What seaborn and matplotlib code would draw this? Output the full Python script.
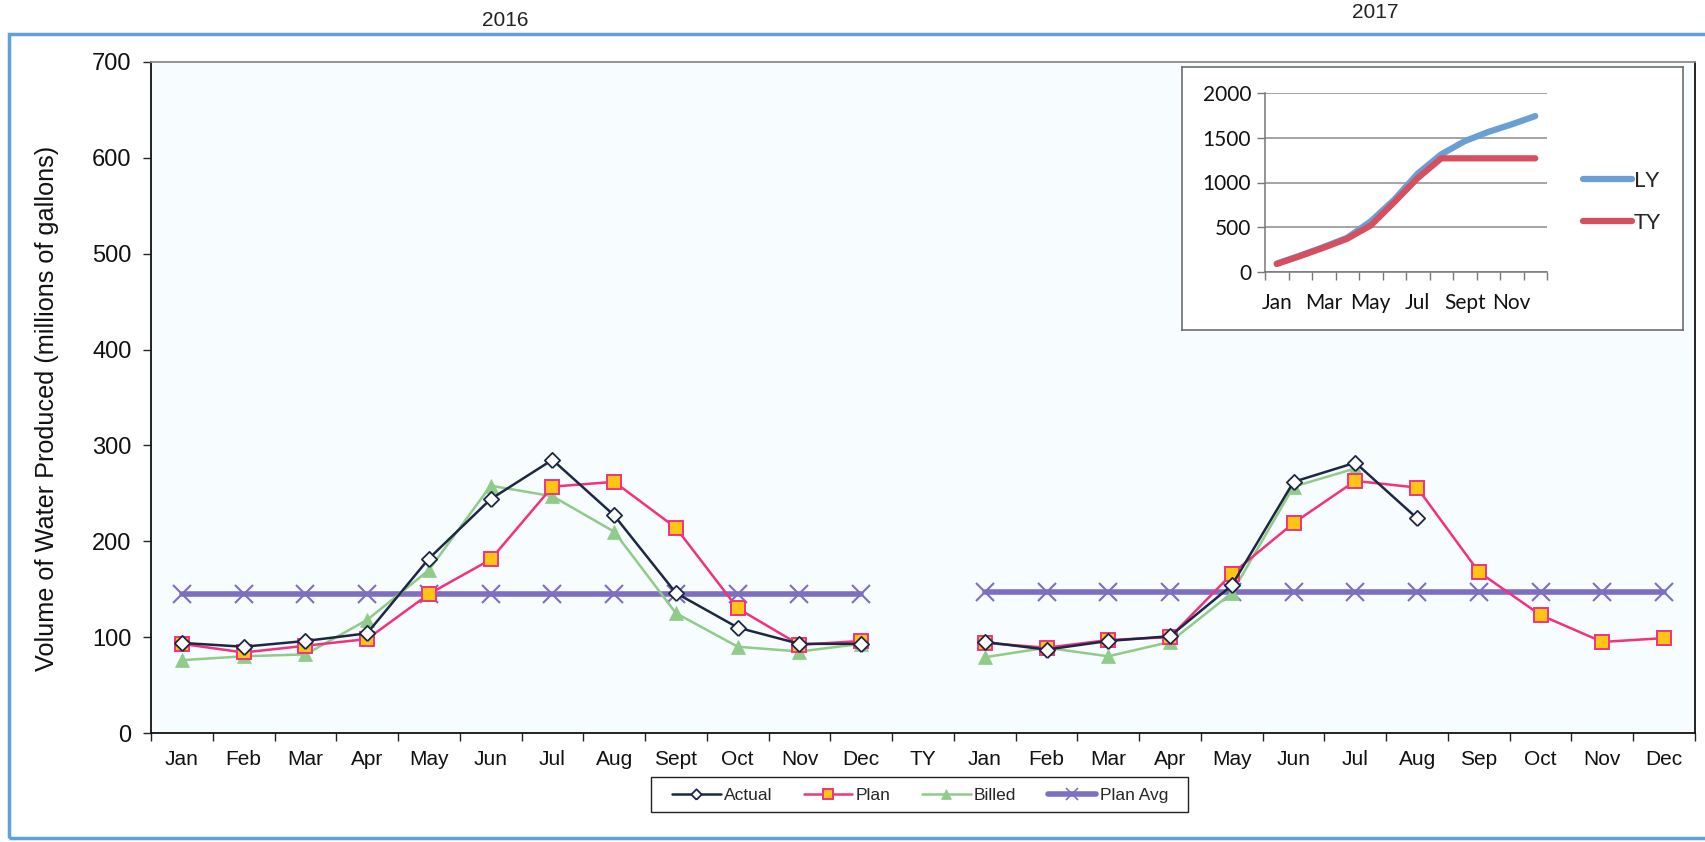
import numpy as np
import pandas as pd
import matplotlib
matplotlib.use("Agg")
import matplotlib.pyplot as plt
import seaborn as sns
from matplotlib.lines import Line2D
from matplotlib.patches import Rectangle

# ---------------- data ----------------
months_2016 = ["Jan", "Feb", "Mar", "Apr", "May", "Jun", "Jul", "Aug", "Sept", "Oct", "Nov", "Dec"]
gap_label = ["TY"]
months_2017 = ["Jan", "Feb", "Mar", "Apr", "May", "Jun", "Jul", "Aug", "Sep", "Oct", "Nov", "Dec"]

actual_2016 = [94, 90, 96, 104, 182, 244, 285, 227, 146, 110, 93, 93]
plan_2016 = [93, 84, 91, 98, 145, 181, 257, 262, 214, 130, 92, 96]
billed_2016 = [76, 80, 82, 118, 170, 258, 247, 210, 125, 90, 85, 93]
plan_avg_2016 = [145, 145, 145, 145, 145, 145, 145, 145, 145, 145, 145, 145]

actual_2017 = [95, 87, 96, 101, 154, 262, 282, 224]
plan_2017 = [94, 89, 97, 100, 166, 219, 263, 256, 168, 123, 95, 99]
billed_2017 = [79, 89, 80, 95, 146, 257, 276]
plan_avg_2017 = [147, 147, 147, 147, 147, 147, 147, 147, 147, 147, 147, 147]

year_titles = ["2016", "2017"]

inset_months = ["Jan", "Feb", "Mar", "Apr", "May", "Jun", "Jul", "Aug", "Sept", "Oct", "Nov", "Dec"]
ly_cum = [94, 184, 280, 383, 566, 808, 1100, 1315, 1462, 1565, 1650, 1742]
ty_cum = [90, 178, 272, 372, 520, 780, 1050, 1270, 1270, 1270, 1270, 1270]

# ---------------- setup ----------------
sns.set_theme(style="white")
MAIN_FONT = ["Liberation Sans", "DejaVu Sans"]
plt.rcParams["font.family"] = MAIN_FONT

W, H = 1705, 842
fig = plt.figure(figsize=(W / 100, H / 100), dpi=100)
fig.patch.set_facecolor("white")

def fx(px):
    return px / W

def fy(py):
    return 1 - py / H

x_labels = months_2016 + gap_label + months_2017
x16 = list(range(0, len(months_2016)))
x17_all = list(range(len(months_2016) + len(gap_label), len(x_labels)))

rows = []
def add(series, xs, vals, seg):
    for xv, v in zip(xs, vals):
        rows.append({"series": series, "x": xv, "value": v, "seg": seg})

add("Actual", x16, actual_2016, "2016")
add("Plan", x16, plan_2016, "2016")
add("Billed", x16, billed_2016, "2016")
add("Plan Avg", x16, plan_avg_2016, "2016")
add("Actual", x17_all[:len(actual_2017)], actual_2017, "2017")
add("Plan", x17_all[:len(plan_2017)], plan_2017, "2017")
add("Billed", x17_all[:len(billed_2017)], billed_2017, "2017")
add("Plan Avg", x17_all[:len(plan_avg_2017)], plan_avg_2017, "2017")
df = pd.DataFrame(rows)

# main axes
ax = fig.add_axes([fx(151), fy(733), fx(1695) - fx(151), fy(62) - fy(733)])
ax.set_facecolor("#F7FCFE")

diamond = [(0, -0.5), (0.5, 0), (0, 0.5), (-0.5, 0), (0, -0.5)]

styles = {
    "Plan Avg": dict(color="#7D6EC2", lw=4.0, marker="x", ms=13, mew=1.5,
                     mfc="#7D6EC2", mec="#7D6EC2", z=2),
    "Billed": dict(color="#8FCB89", lw=1.8, marker="^", ms=10, mew=0.5,
                   mfc="#8FCB89", mec="#8FCB89", z=3),
    "Plan": dict(color="#F2327E", lw=1.8, marker="s", ms=9.5, mew=1.4,
                 mfc="#FFC515", mec="#F2327E", z=4),
    "Actual": dict(color="#1C2744", lw=1.8, marker=diamond, ms=11, mew=1.3,
                   mfc="white", mec="#1C2744", z=5),
}

for name in ["Plan Avg", "Billed", "Plan", "Actual"]:
    st = styles[name]
    for seg in ["2016", "2017"]:
        d = df[(df.series == name) & (df.seg == seg)]
        sns.lineplot(data=d, x="x", y="value", ax=ax, color=st["color"],
                     linewidth=st["lw"], marker=st["marker"], markersize=st["ms"],
                     markeredgewidth=st["mew"], markerfacecolor=st["mfc"],
                     markeredgecolor=st["mec"], zorder=st["z"], estimator=None,
                     legend=False)

ax.set_xlim(-0.5, len(x_labels) - 0.5)
ax.set_ylim(0, 700)
ax.set_yticks(np.arange(0, 701, 100))
ax.set_xticks(np.arange(len(x_labels)))
ax.set_xticklabels(x_labels)
ax.set_xticks(np.arange(-0.5, len(x_labels), 1), minor=True)
ax.tick_params(axis="x", which="major", length=0, pad=12, labelsize=15, colors="#111111")
ax.tick_params(axis="x", which="minor", length=6, width=1, color="#222222", direction="out", bottom=True)
ax.tick_params(axis="y", which="major", length=6, width=1, color="#222222", direction="out",
               left=True, pad=8, labelsize=17, colors="#111111")
ax.set_xlabel("")
ax.set_ylabel("Volume of Water Produced (millions of gallons)", fontsize=18.2,
              color="#111111", va="center")
ax.yaxis.set_label_coords((47 - 151) / (1695 - 151), 0.484)
for s in ["left", "bottom", "right"]:
    ax.spines[s].set_color("#111111")
    ax.spines[s].set_linewidth(1.3)
ax.spines["top"].set_color("#8A8A8A")
ax.spines["top"].set_linewidth(1.3)

# legend (frame drawn separately to match the wide side padding)
handles = []
labels = ["Actual", "Plan", "Billed", "Plan Avg"]
legend_ms = {"Actual": 7.5, "Plan": 7.5, "Billed": 7.5, "Plan Avg": 9}
for name in labels:
    st = styles[name]
    handles.append(Line2D([0], [0], color=st["color"], lw=st["lw"],
                          marker=st["marker"], markersize=legend_ms[name],
                          markeredgewidth=st["mew"] if name != "Plan Avg" else 1.2,
                          markerfacecolor=st["mfc"], markeredgecolor=st["mec"]))
leg = fig.legend(handles, labels, loc="center", bbox_to_anchor=(fx(920), fy(795)), ncol=4,
                 frameon=False, fontsize=12.5, handlelength=2.8, handletextpad=0.2,
                 columnspacing=1.8, borderpad=0.3)
fig.patches.append(Rectangle((fx(651), fy(812)), fx(1188) - fx(651), fy(777) - fy(812),
                             transform=fig.transFigure, fill=False, edgecolor="#222222",
                             linewidth=1.0, zorder=5))

# year titles
fig.text(fx(505), fy(20), year_titles[0], ha="center", va="center", fontsize=15, color="#222222")
fig.text(fx(1375), fy(13), year_titles[1], ha="center", va="center", fontsize=15, color="#222222")

# blue frame
fig.patches.append(Rectangle((fx(9), fy(838)), 1.02 - fx(9), fy(34) - fy(838), transform=fig.transFigure,
                             fill=False, edgecolor="#5FA0DE", linewidth=2.5, zorder=10))

# inset box
box = fig.add_axes([fx(1182), fy(330), fx(1683) - fx(1182), fy(67) - fy(330)])
box.set_facecolor("white")
box.set_xticks([])
box.set_yticks([])
for s in box.spines.values():
    s.set_color("#6E6E6E")
    s.set_linewidth(1.2)

INSET_FONT = ["Lato", "DejaVu Sans"]
axi = fig.add_axes([fx(1265), fy(272), fx(1547) - fx(1265), fy(93) - fy(272)])
axi.set_facecolor("white")
dfi = pd.DataFrame({"m": list(range(len(inset_months))) * 2,
                    "value": ly_cum + ty_cum,
                    "series": ["LY"] * len(ly_cum) + ["TY"] * len(ty_cum)})
sns.lineplot(data=dfi, x="m", y="value", hue="series", palette={"LY": "#6A9FD6", "TY": "#D64F5E"},
             linewidth=4.5, ax=axi, legend=False, estimator=None)
axi.set_xlim(-0.5, len(inset_months) - 0.5)
axi.set_ylim(0, 2000)
axi.set_yticks([0, 500, 1000, 1500, 2000])
axi.grid(axis="y", color="#8C8C8C", linewidth=1.1)
axi.set_axisbelow(True)
axi.set_xticks(np.arange(0, len(inset_months), 2))
axi.set_xticklabels(inset_months[::2])
axi.set_xticks(np.arange(-0.5, len(inset_months), 1), minor=True)
axi.tick_params(axis="x", which="major", length=0, pad=15, labelsize=15)
axi.tick_params(axis="x", which="minor", length=6, width=1, color="#777777", direction="out", bottom=True)
axi.tick_params(axis="y", length=6, width=1, color="#777777", direction="out", left=True, pad=4, labelsize=15)
for lab in axi.get_xticklabels() + axi.get_yticklabels():
    lab.set_family(INSET_FONT)
    lab.set_color("#111111")
axi.set_xlabel("")
axi.set_ylabel("")
for s in ["top", "right"]:
    axi.spines[s].set_visible(False)
for s in ["left", "bottom"]:
    axi.spines[s].set_color("#777777")
    axi.spines[s].set_linewidth(1.1)

ih = [Line2D([0], [0], color="#6A9FD6", lw=4.5), Line2D([0], [0], color="#D64F5E", lw=4.5)]
li = axi.legend(ih, ["LY", "TY"], loc="center left", bbox_to_anchor=(fx(1583), fy(202)),
                bbox_transform=fig.transFigure, frameon=False, handlelength=2.2,
                handletextpad=0.1, labelspacing=1.0, borderpad=0, borderaxespad=0,
                prop={"family": INSET_FONT, "size": 16})

fig.savefig("out.png", dpi=100, facecolor="white")
